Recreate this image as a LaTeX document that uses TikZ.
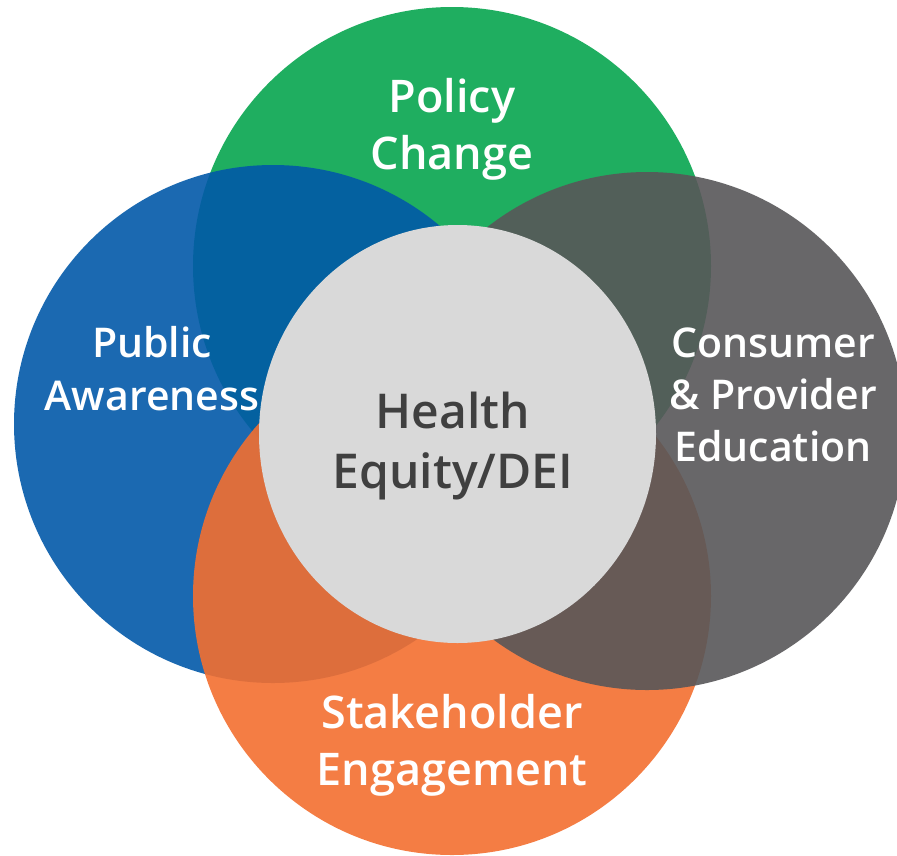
\documentclass[tikz,border=0pt]{standalone}
\usepackage{fontspec}
\setmainfont{Open Sans}[BoldFont={Open Sans Semibold}]
\usetikzlibrary{shapes.geometric}

\definecolor{policygreen}{RGB}{31,174,96}
\definecolor{publicblue}{RGB}{2,89,168}
\definecolor{stakeorange}{RGB}{243,111,48}
\definecolor{consumergray}{RGB}{88,87,89}
\definecolor{coregray}{RGB}{217,217,217}
\definecolor{coretext}{RGB}{64,64,64}

\begin{document}
\begin{tikzpicture}[x=1pt,y=-1pt,
    petal/.style={circle,minimum size=518pt,inner sep=0pt,fill opacity=0.9},
    core/.style={ellipse,minimum width=397pt,minimum height=418pt,inner sep=0pt,fill=coregray},
    petaltext/.style={align=center,anchor=base,inner sep=0pt,text=white,
        font={\fontsize{45}{57}\selectfont\bfseries}}]

    \clip (0,0) rectangle (897,855);
    \useasboundingbox (0,0) rectangle (897,855);

    % the four petals, in drawing order
    \node[petal,fill=policygreen,fill opacity=1] (policy) at (452,266) {};
    \node[petal,fill=publicblue] (public) at (273,424) {};
    \node[petal,fill=stakeorange] (stake) at (452,596) {};
    \node[petal,fill=consumergray] (consumer) at (647,431) {};

    % centre
    \node[core] (health) at (457.5,434) {};

    % labels (anchored on their last line)
    \node[petaltext] (policytext) at (452,169) {Policy\\Change};
    \node[petaltext,font={\fontsize{41}{53}\selectfont\bfseries}] (publictext) at (152,410) {Public\\Awareness};
    \node[petaltext,font={\fontsize{41}{52}\selectfont\bfseries}] (consumertext) at (773,461) {Consumer\\\& Provider\\Education};
    \node[petaltext] (staketext) at (452,785) {Stakeholder\\Engagement};
    \node[petaltext,text=coretext,font={\fontsize{48}{60}\selectfont\bfseries}] (healthtext) at (453,488) {Health\\Equity/DEI};
\end{tikzpicture}
\end{document}
